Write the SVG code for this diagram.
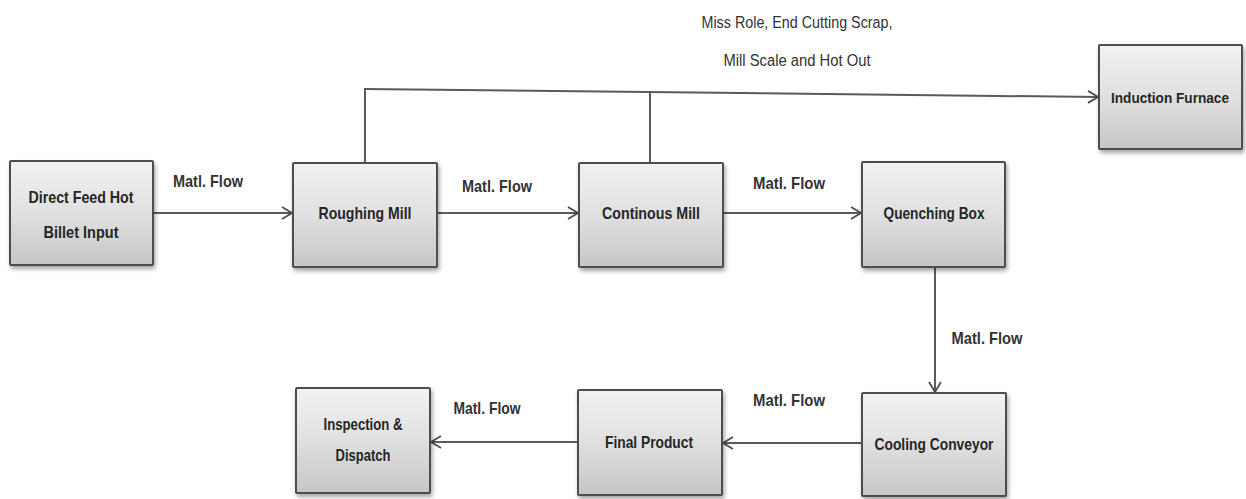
<svg xmlns="http://www.w3.org/2000/svg" width="1246" height="499" viewBox="0 0 1246 499">
<style>
.box{fill:url(#g);stroke:#4d4d4d;stroke-width:2;filter:url(#sh)}
.t{font-family:"Liberation Sans",Arial,sans-serif;font-weight:bold;font-size:17px;fill:#262626;text-anchor:middle}
.lbl{font-family:"Liberation Sans",Arial,sans-serif;font-weight:bold;font-size:17px;fill:#333;text-anchor:middle}
.top{font-family:"Liberation Sans",Arial,sans-serif;font-size:16px;fill:#333;text-anchor:middle}
.c{fill:none;stroke:#5a5a5a;stroke-width:2}
</style>
<defs>
<linearGradient id="g" x1="0" y1="0" x2="0" y2="1">
<stop offset="0" stop-color="#f2f2f2"/>
<stop offset="0.5" stop-color="#e0e0e0"/>
<stop offset="1" stop-color="#c6c6c6"/>
</linearGradient>
<filter id="sh" x="-10%" y="-10%" width="130%" height="130%">
<feDropShadow dx="1.5" dy="3" stdDeviation="2" flood-color="#000" flood-opacity="0.35"/>
</filter>
<marker id="a" markerWidth="12" markerHeight="14" refX="11" refY="7" orient="auto" markerUnits="userSpaceOnUse">
<path d="M1,1 L11,7 L1,13" fill="none" stroke="#4d4d4d" stroke-width="1.8"/>
</marker>
</defs>
<rect width="1246" height="499" fill="#fff"/>
<g id="connectors">
<line class="c" x1="153" y1="213" x2="292" y2="213" marker-end="url(#a)"/>
<line class="c" x1="437" y1="213" x2="578" y2="213" marker-end="url(#a)"/>
<line class="c" x1="723" y1="213" x2="861" y2="213" marker-end="url(#a)"/>
<line class="c" x1="935" y1="267" x2="935" y2="392" marker-end="url(#a)"/>
<line class="c" x1="862" y1="443" x2="723" y2="443" marker-end="url(#a)"/>
<line class="c" x1="578" y1="442" x2="431" y2="442" marker-end="url(#a)"/>
<line class="c" x1="365" y1="163" x2="365" y2="89"/>
<line class="c" x1="650" y1="163" x2="650" y2="93"/>
<line class="c" x1="364" y1="89" x2="1098" y2="97" marker-end="url(#a)"/>
<text class="lbl" x="208" y="187" textLength="70" lengthAdjust="spacingAndGlyphs">Matl. Flow</text>
<text class="lbl" x="497" y="192" textLength="70" lengthAdjust="spacingAndGlyphs">Matl. Flow</text>
<text class="lbl" x="789" y="189" textLength="72" lengthAdjust="spacingAndGlyphs">Matl. Flow</text>
<text class="lbl" x="987" y="344" textLength="71" lengthAdjust="spacingAndGlyphs">Matl. Flow</text>
<text class="lbl" x="789" y="406" textLength="72" lengthAdjust="spacingAndGlyphs">Matl. Flow</text>
<text class="lbl" x="487" y="414" textLength="67" lengthAdjust="spacingAndGlyphs">Matl. Flow</text>
<text class="top" x="797" y="28" textLength="191" lengthAdjust="spacingAndGlyphs">Miss Role, End Cutting Scrap,</text>
<text class="top" x="797" y="66" textLength="147" lengthAdjust="spacingAndGlyphs">Mill Scale and Hot Out</text>
</g>
<g id="direct-feed">
<rect class="box" x="10" y="161" width="143" height="104" rx="1"/>
<text class="t" x="81" y="203" textLength="105" lengthAdjust="spacingAndGlyphs">Direct Feed Hot</text>
<text class="t" x="81" y="238" textLength="75" lengthAdjust="spacingAndGlyphs">Billet Input</text>
</g>
<g id="roughing-mill">
<rect class="box" x="293" y="163" width="144" height="104" rx="1"/>
<text class="t" x="365" y="219" textLength="93" lengthAdjust="spacingAndGlyphs">Roughing Mill</text>
</g>
<g id="continous-mill">
<rect class="box" x="579" y="163" width="144" height="104" rx="1"/>
<text class="t" x="651" y="219" textLength="98" lengthAdjust="spacingAndGlyphs">Continous Mill</text>
</g>
<g id="quenching-box">
<rect class="box" x="862" y="162" width="143" height="105" rx="1"/>
<text class="t" x="934" y="219" textLength="101" lengthAdjust="spacingAndGlyphs">Quenching Box</text>
</g>
<g id="induction-furnace">
<rect class="box" x="1099" y="45" width="143" height="104" rx="1"/>
<text class="t" x="1170" y="103" style="font-size:15px" textLength="118" lengthAdjust="spacingAndGlyphs">Induction Furnace</text>
</g>
<g id="cooling-conveyor">
<rect class="box" x="862" y="393" width="144" height="103" rx="1"/>
<text class="t" x="934" y="450" textLength="119" lengthAdjust="spacingAndGlyphs">Cooling Conveyor</text>
</g>
<g id="final-product">
<rect class="box" x="578" y="390" width="144" height="105" rx="1"/>
<text class="t" x="649" y="448" textLength="88" lengthAdjust="spacingAndGlyphs">Final Product</text>
</g>
<g id="inspection-dispatch">
<rect class="box" x="296" y="388" width="134" height="105" rx="1"/>
<text class="t" x="363" y="430" textLength="79" lengthAdjust="spacingAndGlyphs">Inspection &amp;</text>
<text class="t" x="363" y="461" textLength="55" lengthAdjust="spacingAndGlyphs">Dispatch</text>
</g>
</svg>
